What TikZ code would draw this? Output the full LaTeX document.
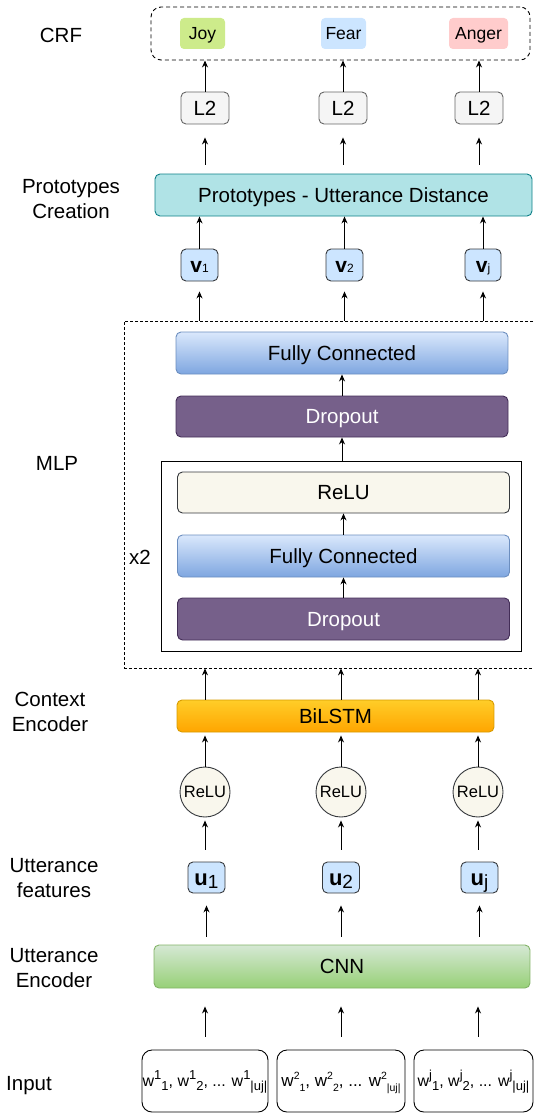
\documentclass[tikz,border=0pt]{standalone}
\usepackage{fontspec}
\setmainfont{Liberation Sans}
\usetikzlibrary{arrows.meta,calc}
\definecolor{joyc}{HTML}{CDEB8B}
\definecolor{fearc}{HTML}{CCE5FF}
\definecolor{angerc}{HTML}{FFCCCC}
\definecolor{grayf}{HTML}{F5F5F5}
\definecolor{grays}{HTML}{666666}
\definecolor{protof}{HTML}{B0E3E6}
\definecolor{protos}{HTML}{0E8088}
\definecolor{darks}{HTML}{36393D}
\definecolor{fctop}{HTML}{DAE8FC}
\definecolor{fcbot}{HTML}{7EA6E0}
\definecolor{fcs}{HTML}{6C8EBF}
\definecolor{dropf}{HTML}{76608A}
\definecolor{drops}{HTML}{432D57}
\definecolor{reluf}{HTML}{F9F7ED}
\definecolor{lstmtop}{HTML}{FFCD28}
\definecolor{lstmbot}{HTML}{FFA500}
\definecolor{lstms}{HTML}{D79B00}
\definecolor{cnntop}{HTML}{D5E8D4}
\definecolor{cnnbot}{HTML}{97D077}
\definecolor{cnns}{HTML}{82B366}
\newcommand\mysup[2]{\raisebox{0.42em}{\fontsize{#1}{#1}\selectfont #2}}
\newcommand\mysub[2]{\raisebox{-0.28em}{\fontsize{#1}{#1}\selectfont #2}}
\tikzset{
  arr/.style={-{Stealth[length=7pt,width=6pt]}, line width=0.9pt, black},
  lbl/.style={font=\fontsize{20.5}{25}\selectfont, align=center, inner sep=0pt},
  ctr/.style={text height=#1, text depth=0pt},
  bx/.style={draw, rounded corners=5pt, line width=0.9pt, inner sep=0pt},
  sz/.style 2 args={minimum width=#1pt, minimum height=#2pt},
  big/.style={font=\fontsize{20.5}{24}\selectfont, ctr=14.6pt},
  fcbox/.style={bx, top color=fctop, bottom color=fcbot, draw=fcs, big},
  dropbox/.style={bx, fill=dropf, draw=drops, text=white, big},
  emo/.style={rounded corners=4pt, inner sep=0pt, font=\fontsize{17.5}{20}\selectfont, ctr=12.4pt},
  vbox/.style={bx, fill=fearc, draw=darks, sz={37}{32}, ctr=14.5pt},
  rcirc/.style={circle, draw=darks, fill=reluf, line width=0.9pt, minimum size=50pt, inner sep=0pt, font=\fontsize{16.5}{18}\selectfont, ctr=11.8pt},
  inbox/.style={draw, rounded corners=10pt, line width=0.9pt, inner sep=0pt, sz={126}{62}, font=\fontsize{16}{18}\selectfont, ctr=11pt}
}
\begin{document}
\begin{tikzpicture}[x=1pt,y=-1pt]
\useasboundingbox (0,0) rectangle (534,1113);

% left labels
\node[lbl, ctr=14.4pt] (tcrf) at (61,35) {CRF};
\node[lbl] (tproto) at (71,199) {Prototypes\\Creation};
\node[lbl, ctr=14.4pt] (tmlp) at (57,463) {MLP};
\node[lbl] (tctx) at (50,711.5) {Context\\Encoder};
\node[lbl] (tuf) at (54,878.5) {Utterance\\features};
\node[lbl] (tue) at (54,968.5) {Utterance\\Encoder};
\node[lbl, ctr=14.4pt] (tin) at (29,1083) {Input};

% CRF
\node[draw, dash pattern=on 4pt off 3pt, rounded corners=10pt, line width=0.9pt, sz={379}{53}] (crf) at (340.5,33.5) {};
\node[emo, fill=joyc, sz={45}{31}] (joy) at (202.5,33.5) {Joy};
\node[emo, fill=fearc, sz={45}{31}] (fear) at (343.5,33.5) {Fear};
\node[emo, fill=angerc, sz={59}{31}] (anger) at (478.5,33.5) {Anger};

% L2
\node[bx, fill=grayf, draw=grays, sz={48}{32}, big] (l2a) at (205,108) {L2};
\node[bx, fill=grayf, draw=grays, sz={48}{32}, big] (l2b) at (343,108) {L2};
\node[bx, fill=grayf, draw=grays, sz={48}{32}, big] (l2c) at (479,108) {L2};
\foreach \n in {l2a,l2b,l2c}{\draw[arr] (\n.north) -- (\n.north |- crf.south);}

% Prototypes
\node[bx, fill=protof, draw=protos, sz={377}{42}, big] (proto) at (343.5,195) {Prototypes - Utterance Distance};
\foreach \n in {l2a,l2b,l2c}{\draw[arr, shorten <=9pt, shorten >=13pt] (\n.south |- proto.north) -- (\n.south);}

% v boxes
\node[vbox] (v1) at (199.5,265) {{\fontsize{21}{21}\selectfont\bfseries v}{\fontsize{12}{12}\selectfont 1}};
\node[vbox] (v2) at (344.5,265) {{\fontsize{21}{21}\selectfont\bfseries v}{\fontsize{12}{12}\selectfont 2}};
\node[vbox, sz={36}{32}] (vj) at (483,265) {{\fontsize{21}{21}\selectfont\bfseries v}{\fontsize{12}{12}\selectfont j}};
\foreach \n in {v1,v2,vj}{\draw[arr] (\n.north) -- (\n.north |- proto.south);}

% MLP
\node[draw, dash pattern=on 3pt off 2pt, line width=0.8pt, sz={416}{347}, inner sep=0pt] (mlp) at (332,494.5) {};
\foreach \n in {v1,v2,vj}{\draw[arr, shorten >=10pt] (\n.south |- mlp.north) -- (\n.south);}
\node[fcbox, sz={332}{42}] (fc1) at (342,353) {Fully Connected};
\node[dropbox, sz={332}{41}] (drop1) at (342,416.5) {Dropout};
\draw[arr] (drop1.north) -- (fc1.south);
\node[draw, line width=0.9pt, sz={360}{190}, inner sep=0pt] (inner) at (341,556) {};
\draw[arr] (drop1.south |- inner.north) -- (drop1.south);
\node[bx, fill=reluf, draw=darks, sz={332}{41}, big] (relu) at (343.5,492.5) {ReLU};
\node[fcbox, sz={332}{42}] (fc2) at (343.5,556) {Fully Connected};
\node[dropbox, sz={332}{42}] (drop2) at (343.5,619) {Dropout};
\draw[arr] (fc2.north) -- (relu.south);
\draw[arr] (drop2.north) -- (fc2.south);
\node[lbl, ctr=14.4pt] (x2) at (140,557) {x2};

% BiLSTM
\node[bx, top color=lstmtop, bottom color=lstmbot, draw=lstms, sz={317}{32}, big] (lstm) at (335.5,716) {BiLSTM};
\node[rcirc] (c1) at (205,792) {ReLU};
\node[rcirc] (c2) at (341,792) {ReLU};
\node[rcirc] (c3) at (478,792) {ReLU};
\foreach \n in {c1,c2,c3}{
  \draw[arr] (\n.north |- lstm.north) -- (\n.north |- mlp.south);
  \draw[arr, shorten >=3pt] (\n.north) -- (\n.north |- lstm.south);
}

% u boxes
\node[vbox, sz={37}{31}, ctr=15.2pt] (u1) at (206.5,877.5) {{\fontsize{22}{22}\selectfont\bfseries u}\raisebox{-3pt}{\fontsize{19}{19}\selectfont 1}};
\node[vbox, sz={37}{31}, ctr=15.2pt] (u2) at (341,877.5) {{\fontsize{22}{22}\selectfont\bfseries u}\raisebox{-3pt}{\fontsize{19}{19}\selectfont 2}};
\node[vbox, sz={37}{31}, ctr=15.2pt] (u3) at (479.5,877.5) {{\fontsize{22}{22}\selectfont\bfseries u}\raisebox{-3pt}{\fontsize{19}{19}\selectfont j}};
\draw[arr, shorten <=12pt, shorten >=3pt] (c1.south |- u1.north) -- (c1.south);
\draw[arr, shorten <=12pt, shorten >=3pt] (c2.south |- u2.north) -- (c2.south);
\draw[arr, shorten <=12pt, shorten >=3pt] (c3.south |- u3.north) -- (c3.south);

% CNN
\node[bx, top color=cnntop, bottom color=cnnbot, draw=cnns, sz={376}{43}, big] (cnn) at (342,966.5) {CNN};
\foreach \n in {u1,u2,u3}{\draw[arr, shorten <=8pt, shorten >=12pt] (\n.south |- cnn.north) -- (\n.south);}

% Inputs
\node[inbox] (in1) at (205,1081) {w\mysup{13}{1}\mysub{13}{1}, w\mysup{13}{1}\mysub{13}{2}, ... w\mysup{13}{1}\mysub{13}{|uj|}};
\node[inbox, sz={128}{62}, font=\fontsize{17}{18}\selectfont, ctr=11.6pt] (in2) at (341,1081) {w\mysup{10.5}{2}\mysub{10.5}{1}, w\mysup{10.5}{2}\mysub{10.5}{2}, ... w\mysup{10.5}{2}\mysub{10.5}{|uj|}};
\node[inbox, sz={119}{62}] (in3) at (473.5,1081) {w\mysup{13}{j}\mysub{13}{1}, w\mysup{13}{j}\mysub{13}{2}, ... w\mysup{13}{j}\mysub{13}{|uj|}};
\draw[arr, shorten <=13pt, shorten >=18pt] (c1.south |- in1.north) -- (c1.south |- cnn.south);
\draw[arr, shorten <=13pt, shorten >=18pt] (in2.north) -- (in2.north |- cnn.south);
\draw[arr, shorten <=13pt, shorten >=18pt] (c3.south |- in3.north) -- (c3.south |- cnn.south);
\end{tikzpicture}
\end{document}
